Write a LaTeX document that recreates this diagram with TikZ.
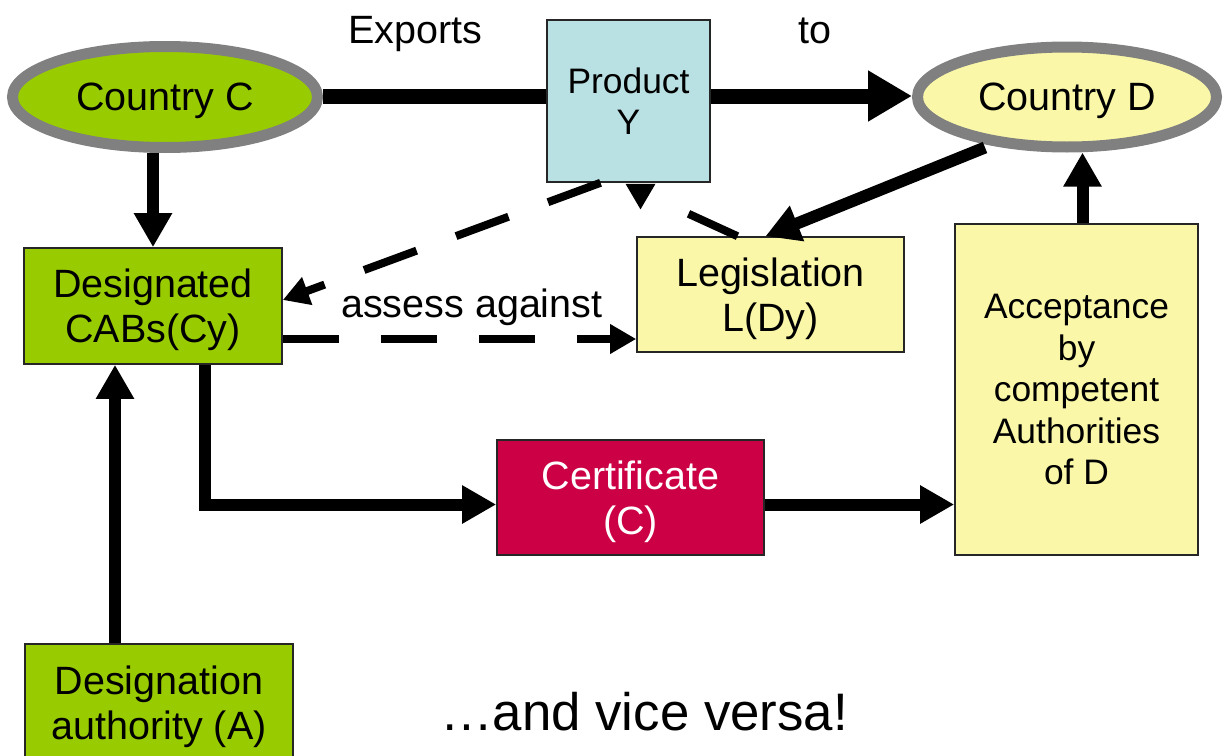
\documentclass[tikz,border=0pt]{standalone}
\usepackage{fontspec}
\setmainfont{Liberation Sans}
\usetikzlibrary{arrows.meta,positioning,calc,shapes.geometric}
\definecolor{cabgreen}{HTML}{99CC00}
\definecolor{paleyellow}{HTML}{FAF8A8}
\definecolor{prodblue}{HTML}{B9E0E3}
\definecolor{certred}{HTML}{CC0044}
\definecolor{edgegray}{HTML}{808080}
\newcommand\txtmain{\fontsize{19.75}{22.5}\selectfont}
\newcommand\txtsmall{\fontsize{17.7}{20.75}\selectfont}
\newcommand\txtbig{\fontsize{26.4}{30}\selectfont}

\begin{document}
\begin{tikzpicture}[x=0.5pt,y=-0.5pt,
  country/.style={ellipse,draw=edgegray,line width=5.5pt,inner sep=0pt,text depth=0pt,font=\txtmain},
  box/.style={draw=black!85,line width=0.8pt,inner sep=0pt,text depth=0pt,align=center,font=\txtmain},
  lbl/.style={inner sep=0pt,font=\txtmain},
  arr/.style={-{Triangle[length=17pt,width=18pt]},line width=6pt},
  exparr/.style={line width=7.5pt},
  dasharr/.style={-{Triangle[length=13pt,width=14pt]},line width=4pt,dash pattern=on 28pt off 21pt}
]
  \useasboundingbox (0,0) rectangle (1226,755);

  % Countries
  \node[country,fill=cabgreen,minimum width=152.5pt,minimum height=50.5pt] (cc) at (165,97) {Country C};
  \node[country,fill=paleyellow,minimum width=149.5pt,minimum height=50pt] (cd) at (1067,97) {Country D};

  % Boxes
  \node[box,fill=prodblue,minimum width=81.5pt,minimum height=81pt,font=\txtsmall] (prod) at (628.5,101) {Product\\Y};
  \node[box,fill=cabgreen,minimum width=129pt,minimum height=58pt] (cabs) at (153,306) {Designated\\CABs(Cy)};
  \node[box,fill=paleyellow,minimum width=133.5pt,minimum height=57.5pt] (leg) at (770.5,294.5) {Legislation\\L(Dy)};
  \node[box,fill=paleyellow,minimum width=121.5pt,minimum height=165.5pt,font=\txtsmall] (acc) at (1076.5,389.5) {Acceptance\\by\\competent\\Authorities\\of D};
  \node[box,fill=certred,text=white,minimum width=133.5pt,minimum height=57.5pt] (cert) at (630.5,497.5) {Certificate\\(C)};
  \node[box,fill=cabgreen,minimum width=134pt,minimum height=59pt] (auth) at (159,703) {Designation\\authority (A)};

  % Labels
  \node[lbl,anchor=base] (exports) at (415,43) {Exports};
  \node[lbl,anchor=base] (to) at (815,43) {to};
  \node[lbl,anchor=base,font=\txtbig] (vice) at (644,730) {…and vice versa!};

  % Arrow ends
  \coordinate (expout) at ($(cc.east)+(0,-1)$);
  \coordinate (accup) at ($(acc.north)+(6,0)$);
  \coordinate (certout) at ($(cert.east)+(0,7)$);
  \coordinate (assessout) at ($(cabs.east)+(0,33)$);

  % Arrows
  \draw[exparr] (expout) -- (expout -| prod.west);
  \draw[exparr,-{Triangle[length=22pt,width=24pt]}] (expout -| prod.east) -- (expout -| cd.west);
  \draw[arr] (cc.south -| cabs.north) -- (cabs.north);
  \draw[arr] ($(cd.south)+(-82,-5)$) -- ($(leg.north)+(-5,0)$);
  \draw[arr] (accup) -- (accup |- cd.south);
  \draw[arr] ($(cabs.south)+(52,0)$) |- ($(cert.west)+(0,7)$);
  \draw[arr] (certout) -- (certout -| acc.west);
  \draw[arr] ($(auth.north)+(-44,0)$) -- ($(cabs.south)+(-38,0)$);

  % Dashed links
  \draw[dasharr] (assessout) -- node[lbl,pos=0.535,above=4.5pt] (assess) {assess against}
    (assessout -| leg.west);
  \draw[dasharr] ($(prod.south)+(-28,0)$) -- ($(cabs.east)+(0,-6)$);
  \draw[dasharr] ($(leg.north)+(-33,0)$) -- ($(prod.south)+(60,31)$)
    ($(prod.south)+(12,3)$) -- ($(prod.south)+(12,27)$);
\end{tikzpicture}
\end{document}
